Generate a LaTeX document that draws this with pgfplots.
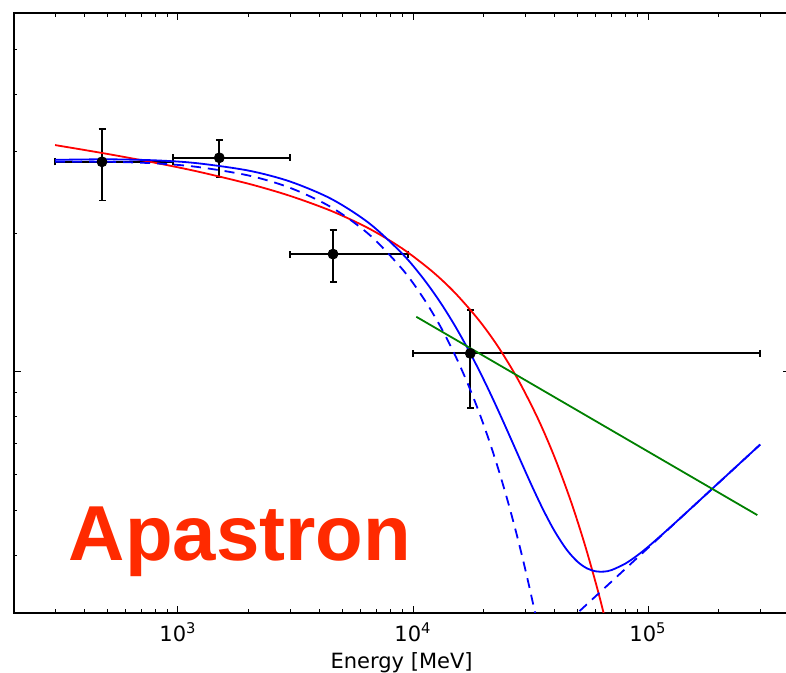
\documentclass[border=0pt]{standalone}
\usepackage{fontspec}
\setmainfont{DejaVu Sans}
\newfontfamily\apfont{Liberation Sans}
\usepackage{pgfplots}
\pgfplotsset{compat=1.18}
\definecolor{apred}{RGB}{255,42,0}
\definecolor{mgreen}{RGB}{0,128,0}
\newcommand\tickfont{\fontsize{10.5bp}{12bp}\selectfont}
\begin{document}
\begin{tikzpicture}
\useasboundingbox (-6.85bp,-30.15bp) rectangle (386.15bp,306.35bp);
\clip (-6.85bp,-30.15bp) rectangle (386.15bp,306.35bp);
\begin{axis}[
  at={(0,0)}, anchor=south west,
  width=387.9bp, height=299.85bp, scale only axis,
  xmode=log, ymode=log,
  xmin=200, xmax=4e5, ymin=3e-12, ymax=6e-11,
  xtick={1000,10000,100000},
  xticklabels={10\textsuperscript{3},10\textsuperscript{4},10\textsuperscript{5}},
  minor xtick={200,300,400,500,600,700,800,900,2000,3000,4000,5000,6000,7000,8000,9000,20000,30000,40000,50000,60000,70000,80000,90000,200000,300000,400000},
  ytick={1e-11},
  yticklabels={},
  minor ytick={3e-12,4e-12,5e-12,6e-12,7e-12,8e-12,9e-12,2e-11,3e-11,4e-11,5e-11,6e-11},
  tick align=inside,
  major tick length=3.5bp, minor tick length=1.75bp,
  every tick/.style={black, line width=0.5bp},
  axis line style={line width=0.9bp},
  xticklabel style={anchor=base, yshift=-14.5bp, font=\tickfont},
  xlabel={Energy [MeV]},
  xlabel style={at={(axis description cs:0.5,-0.0922)}, anchor=base, font=\tickfont},
  title={Bin 003},
  title style={at={(axis description cs:0.5,1)}, anchor=base, yshift=3.5bp, font=\fontsize{12.6bp}{14bp}\selectfont},
]
% data points with asymmetric error bars
\addplot[black, only marks, mark=*, mark size=2.5bp,
  error bars/.cd, x dir=both, x explicit, y dir=both, y explicit,
  error bar style={line width=0.9bp, black},
  error mark options={rotate=90, mark size=1.75bp, line width=0.9bp, black}]
coordinates {
  (475,2.854e-11) += (477,0.502e-11) -= (174.4,0.501e-11)
  (1499,2.912e-11) += (1498,0.269e-11) -= (550,0.272e-11)
  (4567,1.800e-11) += (4955,0.232e-11) -= (1561,0.237e-11)
  (17530,1.096e-11) += (283070,0.263e-11) -= (7530,0.261e-11)
};
% red model
\addplot[red, line width=0.9bp, smooth] coordinates {
  (300,3.103e-11) (500,2.969e-11) (800,2.840e-11) (1200,2.722e-11)
  (2000,2.557e-11) (3000,2.407e-11) (4500,2.232e-11) (6500,2.045e-11)
  (9000,1.851e-11) (12000,1.655e-11) (15000,1.488e-11) (19000,1.297e-11)
  (23000,1.134e-11) (28000,9.614e-12) (34000,7.915e-12) (40000,6.531e-12)
  (47000,5.231e-12) (54000,4.195e-12) (62000,3.267e-12) (70000,2.546e-12)
};
% blue solid (total)
\addplot[blue, line width=0.9bp, smooth] coordinates {
  (300,2.882e-11) (500,2.890e-11) (800,2.875e-11) (1200,2.835e-11)
  (2000,2.731e-11) (3000,2.586e-11) (4500,2.370e-11) (6500,2.101e-11)
  (9000,1.804e-11) (11000,1.599e-11) (13000,1.420e-11) (15000,1.264e-11)
  (17000,1.129e-11) (19000,1.013e-11) (21000,9.126e-12) (23000,8.260e-12)
  (25000,7.517e-12) (27000,6.880e-12) (29000,6.335e-12) (31000,5.871e-12)
  (33000,5.476e-12) (36000,4.992e-12) (40000,4.514e-12) (45000,4.116e-12)
  (50000,3.876e-12) (55000,3.745e-12) (60000,3.690e-12) (65000,3.685e-12)
  (70000,3.714e-12) (80000,3.834e-12) (90000,3.995e-12) (100000,4.169e-12)
  (120000,4.524e-12) (150000,5.018e-12) (200000,5.745e-12) (250000,6.380e-12)
  (300000,6.950e-12)
};
% blue dashed components
\addplot[blue, line width=0.9bp, smooth, dash pattern=on 5bp off 3.5bp] coordinates {
  (300,2.855e-11) (500,2.855e-11) (800,2.832e-11) (1200,2.783e-11)
  (2000,2.665e-11) (3000,2.506e-11) (4500,2.273e-11) (6500,1.986e-11)
  (9000,1.670e-11) (11000,1.452e-11) (13000,1.261e-11) (15000,1.094e-11)
  (17000,9.491e-12) (19000,8.229e-12) (21000,7.134e-12) (23000,6.181e-12)
  (25000,5.355e-12) (27000,4.638e-12) (29000,4.017e-12) (31000,3.479e-12)
  (33000,3.013e-12) (34000,2.803e-12)
};
\addplot[blue, line width=0.9bp, dash pattern=on 5bp off 3.5bp] coordinates {
  (40000,2.696e-12) (300000,6.950e-12)
};
% green power law
\addplot[mgreen, line width=0.9bp] coordinates {
  (10330,1.316e-11) (291800,4.887e-12)
};
\node[anchor=base west, text=apred, inner sep=0pt,
  font=\apfont\bfseries\fontsize{39bp}{41bp}\selectfont]
  at (rel axis cs:0.0705,0.0865) {Apastron};
\end{axis}
\end{tikzpicture}
\end{document}
